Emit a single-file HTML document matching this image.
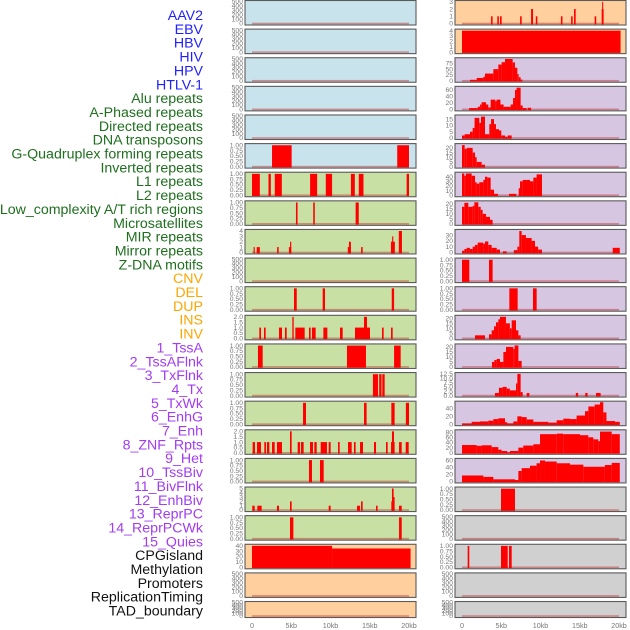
<!DOCTYPE html>
<html><head><meta charset="utf-8">
<style>
html,body{margin:0;padding:0;background:#fff;}
svg{display:block;font-family:"Liberation Sans",sans-serif;}
</style></head>
<body>
<svg id="chart" width="630" height="630" viewBox="0 0 630 630" xmlns="http://www.w3.org/2000/svg"></svg>
<script>
// ---------- label data ----------
const labelNames = ["AAV2","EBV","HBV","HIV","HPV","HTLV-1","Alu repeats","A-Phased repeats","Directed repeats","DNA transposons","G-Quadruplex forming repeats","Inverted repeats","L1 repeats","L2 repeats","Low_complexity A/T rich regions","Microsatellites","MIR repeats","Mirror repeats","Z-DNA motifs","CNV","DEL","DUP","INS","INV","1_TssA","2_TssAFlnk","3_TxFlnk","4_Tx","5_TxWk","6_EnhG","7_Enh","8_ZNF_Rpts","9_Het","10_TssBiv","11_BivFlnk","12_EnhBiv","13_ReprPC","14_ReprPCWk","15_Quies","CPGisland","Methylation","Promoters","ReplicationTiming","TAD_boundary"];
const labelGroups = [0,0,0,0,0,0,1,1,1,1,1,1,1,1,1,1,1,1,1,2,2,2,2,2,3,3,3,3,3,3,3,3,3,3,3,3,3,3,3,4,4,4,4,4];

// ---------- tick label sets ----------
const ticksEmpty = [0,100,200,300,400,500];
const ticksUnit = [0,0.25,0.5,0.75,1];
const ticksTwo = [0,0.5,1,1.5,2];
const ticksFour = [0,1,2,3,4];
const ticksFive = [0,1,2,3,4,5];
const ticksThree = [0,1,2,3];
const ticks40 = [0,10,20,30,40];
const xTickValues = [0,5,10,15,20];
const xTickLabels = ["0","5kb","10kb","15kb","20kb"];

// ---------- left column series: [startKb, endKb, value] ----------
const L5 = [[2.55,5.05,1],[18.5,20,1]];
const L6 = [[0,1.0,1],[2.1,2.4,1],[2.9,3.8,1],[7.4,8.3,1],[9.4,10.2,1],[12.6,13.1,1],[13.6,14.2,1],[19.7,20,1]];
const L7 = [[5.6,5.8,1],[7.8,8.0,1],[13.2,13.6,1]];
const L8 = [[0.2,0.35,1],[0.6,1.0,1],[3.2,3.4,1],[4.7,5.0,1],[4.85,5.0,2],[12.2,12.6,1],[12.35,12.6,2],[13.9,14.1,1],[17.7,18.2,2],[17.85,18.0,3],[18.7,19.1,4]];
const L10 = [[5.35,5.7,1],[9.0,9.3,1],[17.8,18.1,1]];
const L11 = [[0.93,1.15,1],[1.53,1.74,1],[3.44,3.82,1],[4.2,4.42,1],[5.14,5.31,2],[5.52,6.71,1],[7.26,7.47,1],[7.64,8.11,1],[9.09,9.6,1],[11.21,11.55,1],[13.12,15.03,1],[14.27,14.65,2],[16.56,16.77,1],[17.71,17.92,1]];
const L12 = [[0.76,1.36,1],[12.1,14.52,1],[18.1,18.94,1]];
const L13 = [[15.4,16.05,1],[16.2,16.5,1],[16.6,16.9,1]];
const L14 = [[6.5,6.88,1],[14.27,14.6,1],[17.75,18.17,1],[19.6,20.0,1]];
const L15 = [[0.08,0.38,1],[0.64,1.15,1],[1.57,1.78,1],[1.91,2.21,1],[2.55,2.89,1],[3.18,3.82,1],[4.84,5.05,2],[5.82,6.11,1],[6.24,6.58,1],[7.39,7.77,1],[7.94,8.24,1],[8.75,9.55,1],[9.77,10.02,1],[10.96,11.17,1],[12.23,12.7,1],[12.99,13.2,1],[13.76,14.14,1],[15.54,15.8,1],[17.07,17.28,1],[17.71,18.17,1],[17.83,18.09,2],[18.73,19.07,1],[19.58,19.96,1]];
const L16 = [[7.26,7.64,1],[8.66,9.13,1]];
const L17 = [[0.04,0.34,1],[0.68,1.23,1],[3.18,3.44,1],[4.84,5.05,2],[9.77,10.02,1],[13.38,13.76,1],[13.89,14.1,2],[15.8,16.0,1],[17.75,18.0,2],[17.83,18.04,5],[18.0,18.17,3],[18.73,19.07,1]];
const L18 = [[4.84,5.27,1],[18.73,19.07,1]];
const L19 = [[0,10.2,40],[10.2,20.2,35]];

// ---------- right column series ----------
const R0 = [[3.7,3.9,1],[4.5,4.7,1],[4.84,5.05,1],[7.4,7.6,1],[8.8,9.05,2],[9.4,9.6,1],[12.6,12.8,1],[13.9,14.1,1],[14.27,14.48,2],[16.9,17.1,1],[17.79,18.04,2],[17.85,17.98,3]];
const R1 = [[0,20.2,4]];
const R2 = [[1.02,1.87,4],[1.87,2.72,12],[2.72,2.93,17],[2.93,3.99,31],[3.99,4.63,50],[4.63,5.05,70],[5.05,5.48,80],[5.48,6.45,94],[6.45,6.75,79],[6.75,7.05,56],[7.05,7.22,29],[7.22,7.47,15],[7.47,7.69,5]];
const R3 = [[0.9,2.0,4],[2.0,2.3,8],[2.3,2.5,15],[2.5,3.06,22],[3.06,3.35,15],[3.35,3.65,6],[3.65,4.25,30],[4.25,4.4,25],[4.4,4.9,30],[4.9,5.3,15],[5.3,6.2,8],[6.2,6.5,15],[6.5,6.75,35],[6.75,6.95,60],[6.95,7.47,67],[7.47,7.73,12],[7.73,8.24,4],[8.36,8.8,5]];
const R4 = [[0,0.34,2],[0.34,1.02,3],[1.02,1.36,5],[1.36,1.6,8],[1.6,2.2,16],[2.2,2.42,12],[2.42,2.93,17],[2.93,3.48,3],[3.48,3.7,11],[3.7,4.08,15],[4.08,4.33,11],[4.33,4.71,7],[4.71,5.0,6],[5.0,5.48,2],[5.48,5.82,1],[5.82,6.33,2]];
const R5 = [[0,0.34,23],[0.34,0.6,19],[0.6,1.36,20],[1.36,1.66,15],[1.66,1.87,10],[1.87,2.5,5],[2.5,2.93,2]];
const R6 = [[0,0.3,47],[0.3,0.5,42],[0.5,1.23,47],[1.23,1.66,42],[1.66,1.87,28],[1.87,2.2,25],[2.2,2.72,28],[2.72,2.93,33],[2.93,3.23,40],[3.23,3.65,38],[3.65,4.08,12],[4.08,4.59,3],[5.99,6.92,3],[7.22,7.39,15],[7.39,7.73,30],[7.73,8.66,33],[8.66,9.09,30],[9.09,9.5,38],[9.5,10.19,45]];
const R7 = [[0,0.3,17],[0.3,0.8,21],[0.8,1.36,17],[1.36,1.57,18],[1.57,2.08,21.5],[2.08,2.38,17],[2.38,2.63,14],[2.63,3.06,10],[3.06,3.57,7],[3.57,3.9,4]];
const R8 = [[0,0.3,3],[0.3,0.6,6],[0.6,1.0,8],[1.0,1.36,6],[1.36,1.66,10],[1.66,2.0,13],[2.0,2.72,17],[2.72,2.93,15],[2.93,3.35,19],[3.35,3.78,13],[3.78,4.42,8],[4.42,4.84,5],[5.2,5.69,2],[6.6,7.05,4],[7.05,7.3,10],[7.3,7.6,37],[7.6,8.15,30],[8.15,8.87,25],[8.87,9.3,20],[9.3,9.7,10],[9.7,10.19,5],[19.2,20.1,8]];
const R9 = [[0,0.93,1],[3.44,3.9,1]];
const R10 = [[6.03,7.09,1],[9.04,9.51,1]];
const R11 = [[1.66,2.93,3],[3.44,3.78,4],[3.78,4.08,8],[4.08,4.33,12],[4.33,4.63,16],[4.63,4.84,19],[4.84,5.6,21.5],[5.6,6.1,15],[6.1,6.33,10],[6.33,6.88,18],[6.88,7.18,8],[7.18,7.47,3]];
const R12 = [[3.82,4.12,5],[4.12,4.42,7],[4.42,4.84,8],[4.84,5.27,5],[5.27,5.6,15],[5.6,6.54,20],[6.54,6.7,18],[6.7,7.18,21.5],[7.18,7.6,6]];
const R13 = [[4.2,4.71,1.5],[4.71,5.18,4.5],[5.18,5.69,5],[5.69,6.1,4],[6.1,6.88,3],[6.88,7.05,7],[7.05,7.47,12.5],[7.47,7.73,2],[8.24,8.58,1.5],[14.5,14.8,1.5],[15.7,16.0,1.5],[17.07,17.66,1.5]];
const R14 = [[0,1.23,2],[1.23,2.29,6],[2.29,3.35,7],[3.35,3.99,9],[3.99,4.63,13],[4.63,5.48,15],[5.48,5.77,5],[5.77,6.54,2],[6.54,7.05,7],[7.05,7.6,20],[7.6,8.24,18],[8.24,9.09,12],[9.09,11.0,6],[11.0,12.06,4],[12.06,12.9,10],[12.9,13.76,14],[13.76,14.6,13],[14.6,15.67,22],[15.67,16.1,33],[16.1,16.9,45],[16.9,17.58,50],[17.58,18.0,56],[18.0,18.4,30],[18.4,19.5,8],[19.5,20.1,6]];
const R15 = [[0,1.87,30],[1.87,2.5,27],[2.5,3.78,29],[3.78,4.63,22],[4.63,5.05,12],[5.05,5.77,7],[5.77,6.1,2],[6.1,7.18,7],[7.18,7.81,20],[7.81,9.09,28],[9.09,9.94,33],[9.94,12.06,72],[12.06,12.9,74],[12.9,15.03,72],[15.03,16.09,68],[16.09,16.73,60],[16.73,17.37,52],[17.37,17.58,45],[17.58,19.07,82],[19.07,20.1,72]];
const R16 = [[0,2.72,17],[2.72,3.99,13],[3.99,6.75,6],[6.75,7.18,4],[7.18,7.6,30],[7.6,8.66,38],[8.66,9.5,45],[9.5,9.94,52],[9.94,10.57,60],[10.57,12.06,57],[12.06,13.76,52],[13.76,15.46,48],[15.46,18.2,42],[18.2,19.07,47],[19.07,20.1,53]];
const R17 = [[4.97,6.75,1]];
const R19 = [[0.72,0.93,1],[4.97,5.82,1],[5.99,6.33,1]];
const EMPTY = [];

// ---------- panel specs: [bg, ticks, ymax, series, tickDecimals] ----------
const BL='#c8e3eb', GR='#c9e0a4', OR='#ffd09e', PU='#d6c6e2', GY='#d0d0d0';
const leftPanels = [
 [BL,ticksEmpty,500,EMPTY,0],[BL,ticksEmpty,500,EMPTY,0],[BL,ticksEmpty,500,EMPTY,0],[BL,ticksEmpty,500,EMPTY,0],[BL,ticksEmpty,500,EMPTY,0],
 [BL,ticksUnit,1.03,L5,2],[GR,ticksUnit,1.03,L6,2],[GR,ticksUnit,1.03,L7,2],[GR,ticksFour,4.1,L8,0],[GR,ticksEmpty,500,EMPTY,0],
 [GR,ticksUnit,1.03,L10,2],[GR,ticksTwo,2.05,L11,1],[GR,ticksUnit,1.03,L12,2],[GR,ticksUnit,1.03,L13,2],[GR,ticksUnit,1.03,L14,2],
 [GR,ticksTwo,2.05,L15,1],[GR,ticksUnit,1.03,L16,2],[GR,ticksFive,5.1,L17,0],[GR,ticksUnit,1.03,L18,2],[OR,ticks40,41,L19,0],
 [OR,ticksEmpty,500,EMPTY,0],[OR,ticksEmpty,500,EMPTY,0]
];
const rightPanels = [
 [OR,ticksThree,3.05,R0,0],[OR,ticksFour,4.1,R1,0],[PU,[0,25,50,75],95,R2,0],[PU,[0,20,40,60],68,R3,0],[PU,[0,5,10,15],17.5,R4,0],
 [PU,[0,5,10,15,20],23.5,R5,0],[PU,[0,10,20,30,40],47.5,R6,0],[PU,[0,5,10,15,20],22,R7,0],[PU,[0,10,20,30],38,R8,0],[PU,ticksUnit,1.03,R9,2],
 [PU,ticksUnit,1.03,R10,2],[PU,[0,5,10,15,20],22,R11,0],[PU,[0,5,10,15,20],22,R12,0],[PU,[0,2.5,5,7.5,10,12.5],12.7,R13,1],[PU,[0,20,40],56,R14,0],
 [PU,[0,20,40,60,80],85,R15,0],[PU,[0,20,40,60],63,R16,0],[GY,ticksUnit,1.03,R17,2],[GY,ticksEmpty,500,EMPTY,0],[GY,ticksUnit,1.03,R19,2],
 [GY,ticksEmpty,500,EMPTY,0],[GY,ticksEmpty,500,EMPTY,0]
];

const NS='http://www.w3.org/2000/svg';
const svg=document.getElementById('chart');
function mk(tag,attrs,parent){const e=document.createElementNS(NS,tag);for(const k in attrs)e.setAttribute(k,attrs[k]);(parent||svg).appendChild(e);return e;}

// labels
const groupColors=['#1f1fff','#1f6f1f','#ffa500','#a33cf0','#111111'];
labelNames.forEach((t,i)=>{
  const e=mk('text',{x:203,y:15+i*13.85+5,'text-anchor':'end','font-size':'14.2',fill:groupColors[labelGroups[i]]});
  e.textContent=t;
  
  
});

function rowTop(i){return 0.5+i*28.62;}
function rowH(i){return i===21?16:24.5;}

function drawColumn(panels,px0,px1,dx0,dx1,colName){
  const xs=kb=>dx0+(dx1-dx0)*kb/20;
  panels.forEach((p,i)=>{
    const [bg,ticks,ymax,series,dec]=p;
    const top=rowTop(i),h=rowH(i),bot=top+h;
    const ys=v=>bot-1.5-(v/ymax)*(h-2.5);
    const g=mk('g',{});
    
    
    mk('rect',{x:px0,y:top,width:px1-px0,height:h,fill:bg,stroke:'#5a5a5a','stroke-width':1.1},g);
    const bl=mk('rect',{x:xs(0),y:ys(0)-0.8,width:xs(20)-xs(0),height:1.6,fill:'rgba(190,40,40,0.45)'},g);
    
    
    series.forEach((s,j)=>{
      const r=mk('rect',{x:xs(s[0]),y:ys(s[2]),width:Math.max(0.8,xs(s[1])-xs(s[0])),height:ys(0)-ys(s[2])+0.8,fill:'#ff0000'},g);
      
      
    });
    ticks.forEach(t=>{
      const tx=mk('text',{x:px0-2,y:ys(t)+2.2,'text-anchor':'end','font-size':'6.8',fill:'#777'},g);
      tx.textContent=t.toFixed(dec);
      
      
    });
  });
  xTickValues.forEach((v,k)=>{
    const tx=mk('text',{x:xs(v),y:628,'text-anchor':'middle','font-size':'7.2',fill:'#777'});
    tx.textContent=xTickLabels[k];
    
    
  });
}
drawColumn(leftPanels,245,416,252,409,'left');
drawColumn(rightPanels,455,626,462,619,'right');
</script>
</body></html>
